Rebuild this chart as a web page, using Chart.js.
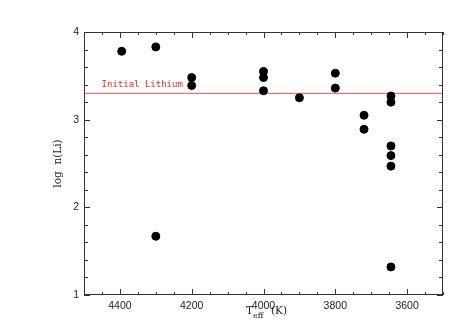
<!DOCTYPE html>
<html>
<head>
<meta charset="utf-8">
<script src="https://cdn.jsdelivr.net/npm/chart.js@4"></script>
<style>
  body { margin: 0; background: #fff; }
</style>
</head>
<body>
<canvas id="liChart" width="457" height="327"></canvas>
<script>
// stars: effective temperature and lithium abundance
const teff = [4395, 4300, 4300, 4200, 4200, 4000, 4000, 4000, 3900, 3800, 3800, 3720, 3720, 3645, 3645, 3645, 3645, 3645, 3645];
const logLi = [3.78, 3.83, 1.67, 3.48, 3.39, 3.55, 3.48, 3.33, 3.25, 3.53, 3.36, 3.05, 2.89, 3.27, 3.20, 2.70, 2.59, 2.47, 1.32];

// reference level
const initialLi = 3.30;
const initialLabel = 'Initial Lithium';

// axes
const xRange = [3500, 4500];
const yRange = [1, 4];
const xTicks = [4400, 4200, 4000, 3800, 3600];
const yTicks = [1, 2, 3, 4];
const xMinorStep = 50;
const yMinorStep = 0.2;

// frame, inward ticks, axis titles and the label of the reference line
const framePlugin = {
    id: 'frame',
    afterDraw(chart) {
        const ctx = chart.ctx;
        const a = chart.chartArea;
        const xs = chart.scales.x;
        const ys = chart.scales.y;
        ctx.save();
        ctx.strokeStyle = '#333';
        ctx.lineWidth = 1;
        ctx.strokeRect(a.left + 0.5, a.top + 0.5, a.right - a.left - 1, a.bottom - a.top - 1);

        ctx.beginPath();
        // x ticks, bottom and top
        for (let v = xRange[0]; v <= xRange[1]; v += xMinorStep) {
            const px = Math.round(xs.getPixelForValue(v)) + 0.5;
            const len = xTicks.includes(v) ? 6 : 3;
            ctx.moveTo(px, a.bottom); ctx.lineTo(px, a.bottom - len);
            ctx.moveTo(px, a.top); ctx.lineTo(px, a.top + len);
        }
        // y ticks, left and right
        for (let i = 0; yRange[0] + i * yMinorStep <= yRange[1] + 1e-9; i++) {
            const v = yRange[0] + i * yMinorStep;
            const py = Math.round(ys.getPixelForValue(v)) + 0.5;
            const len = yTicks.some(t => Math.abs(t - v) < 1e-6) ? 6 : 4;
            ctx.moveTo(a.left, py); ctx.lineTo(a.left + len, py);
            ctx.moveTo(a.right, py); ctx.lineTo(a.right - len, py);
        }
        ctx.stroke();

        // reference line label
        ctx.fillStyle = '#ff2020';
        ctx.font = '9px "DejaVu Sans Mono", monospace';
        ctx.textBaseline = 'middle';
        ctx.textAlign = 'left';
        ctx.fillText(initialLabel, xs.getPixelForValue(4451), ys.getPixelForValue(3.40));

        // x title: T_eff (K)
        ctx.fillStyle = '#222';
        const ty = 311;
        let x0 = 246;
        ctx.font = '10.5px "DejaVu Serif", serif';
        ctx.fillText('T', x0, ty);
        x0 += ctx.measureText('T').width;
        ctx.font = '8px "DejaVu Serif", serif';
        ctx.fillText('eff', x0, ty + 5);
        ctx.font = '10.5px "DejaVu Serif", serif';
        ctx.fillText('(K)', 271, ty);

        // y title
        ctx.translate(58, (a.top + a.bottom) / 2);
        ctx.rotate(-Math.PI / 2);
        ctx.textAlign = 'center';
        ctx.fillText('log  n(Li)', 0, 0);
        ctx.restore();
    }
};

const ctx = document.getElementById('liChart').getContext('2d');

const liChart = new Chart(ctx, {
    type: 'scatter',
    data: {
        datasets: [
            {
                label: 'stars',
                data: teff.map((t, i) => ({x: t, y: logLi[i]})),
                backgroundColor: '#000',
                borderColor: '#000',
                pointRadius: 4,
                order: 1
            },
            {
                label: initialLabel,
                type: 'line',
                data: [{x: xRange[1], y: initialLi}, {x: xRange[0], y: initialLi}],
                borderColor: '#ff5050',
                borderWidth: 1,
                pointRadius: 0,
                order: 2
            }
        ]
    },
    options: {
        responsive: false,
        animation: false,
        layout: {
            padding: {top: 32, right: 14, left: 0, bottom: 0}
        },
        plugins: {
            legend: {display: false},
            tooltip: {enabled: false}
        },
        scales: {
            x: {
                type: 'linear',
                reverse: true,
                min: xRange[0],
                max: xRange[1],
                afterBuildTicks: s => { s.ticks = xTicks.map(v => ({value: v})); },
                afterFit: s => { s.height = 32; },
                grid: {display: false, drawTicks: false},
                border: {display: false},
                ticks: {
                    color: '#222',
                    font: {family: '"Liberation Sans", Arial, sans-serif', size: 10.5},
                    padding: 5,
                    maxRotation: 0,
                    callback: v => String(v)
                }
            },
            y: {
                type: 'linear',
                min: yRange[0],
                max: yRange[1],
                afterBuildTicks: s => { s.ticks = yTicks.map(v => ({value: v})); },
                afterFit: s => { s.width = 84; },
                grid: {display: false, drawTicks: false},
                border: {display: false},
                ticks: {
                    color: '#222',
                    font: {family: '"Liberation Sans", Arial, sans-serif', size: 10.5},
                    padding: 5,
                    callback: v => String(v)
                }
            }
        }
    },
    plugins: [framePlugin]
});
</script>
</body>
</html>
